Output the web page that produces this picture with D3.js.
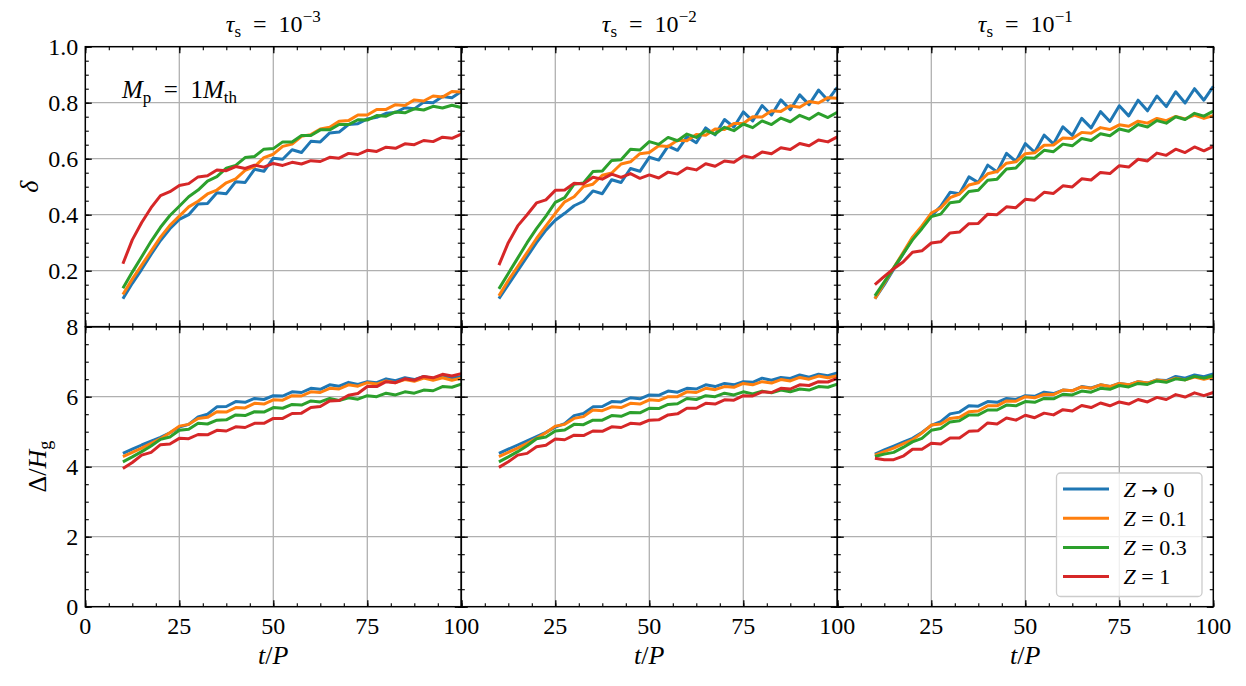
<!DOCTYPE html>
<html>
<head>
<meta charset="utf-8">
<script src="https://cdn.jsdelivr.net/npm/d3@7"></script>
<style>
  html, body { margin: 0; padding: 0; background: #fff; }
  svg { display: block; }
  text { font-family: "Liberation Serif", "DejaVu Serif", serif; fill: #000; }
</style>
</head>
<body>
<div id="chart"></div>
<script>
// sample times t/P shared by every curve
const tValues = [10, 12.5, 15, 17.5, 20, 22.5, 25, 27.5, 30, 32.5, 35, 37.5, 40, 42.5, 45, 47.5, 50, 52.5, 55,
  57.5, 60, 62.5, 65, 67.5, 70, 72.5, 75, 77.5, 80, 82.5, 85, 87.5, 90, 92.5, 95, 97.5, 100];

const legendOps = ["\u2192", "=", "=", "="];
const legendNums = ["0", "0.1", "0.3", "1"];
const tauExponents = ["\u22123", "\u22122", "\u22121"];
const colors = ["#1f77b4", "#ff7f0e", "#2ca02c", "#d62728"];

const xMajor = [0, 25, 50, 75, 100];
const deltaMajor = [0, 0.2, 0.4, 0.6, 0.8, 1.0];
const widthMajor = [0, 2, 4, 6, 8];

// delta, tau_s = 1e-3
const delta3_Z0 = [0.100,0.155,0.205,0.258,0.308,0.350,0.383,0.400,0.438,0.440,0.478,0.475,0.518,0.515,0.562,0.555,0.602,0.598,0.632,0.622,0.662,0.660,0.692,0.695,0.722,0.725,0.742,0.748,0.762,0.765,0.782,0.778,0.802,0.800,0.822,0.818,0.840];
const delta3_Z01 = [0.115,0.170,0.220,0.270,0.320,0.362,0.395,0.428,0.448,0.474,0.488,0.514,0.528,0.558,0.572,0.604,0.616,0.644,0.652,0.680,0.686,0.706,0.712,0.734,0.736,0.756,0.756,0.776,0.776,0.793,0.790,0.810,0.806,0.824,0.820,0.840,0.838];
const delta3_Z03 = [0.137,0.195,0.250,0.305,0.355,0.397,0.430,0.464,0.488,0.520,0.536,0.566,0.576,0.604,0.608,0.634,0.636,0.660,0.660,0.683,0.683,0.703,0.703,0.722,0.722,0.739,0.738,0.754,0.752,0.767,0.764,0.778,0.774,0.787,0.781,0.791,0.783];
const delta3_Z1 = [0.225,0.310,0.372,0.425,0.468,0.482,0.504,0.511,0.535,0.539,0.560,0.557,0.572,0.565,0.577,0.570,0.583,0.576,0.587,0.581,0.593,0.590,0.605,0.602,0.619,0.615,0.630,0.626,0.641,0.637,0.653,0.650,0.665,0.661,0.677,0.673,0.688];

// delta, tau_s = 1e-2
const delta2_Z0 = [0.100,0.150,0.200,0.250,0.300,0.345,0.380,0.405,0.432,0.448,0.485,0.475,0.525,0.515,0.565,0.555,0.605,0.595,0.645,0.630,0.678,0.657,0.710,0.685,0.740,0.713,0.767,0.735,0.790,0.756,0.810,0.775,0.828,0.793,0.845,0.809,0.855];
const delta2_Z01 = [0.110,0.165,0.215,0.265,0.315,0.360,0.405,0.446,0.464,0.501,0.509,0.541,0.549,0.581,0.589,0.618,0.622,0.646,0.644,0.666,0.664,0.686,0.684,0.706,0.704,0.726,0.726,0.750,0.749,0.771,0.769,0.789,0.784,0.804,0.799,0.818,0.816];
const delta2_Z03 = [0.135,0.190,0.245,0.300,0.350,0.395,0.444,0.461,0.509,0.513,0.554,0.556,0.594,0.596,0.634,0.631,0.661,0.651,0.676,0.664,0.688,0.676,0.700,0.688,0.712,0.700,0.724,0.711,0.735,0.722,0.745,0.732,0.755,0.741,0.762,0.747,0.766];
const delta2_Z1 = [0.220,0.300,0.360,0.400,0.442,0.453,0.487,0.488,0.512,0.510,0.534,0.527,0.545,0.533,0.547,0.530,0.542,0.531,0.552,0.545,0.567,0.560,0.582,0.573,0.592,0.587,0.610,0.603,0.624,0.618,0.639,0.633,0.654,0.646,0.667,0.660,0.678];

// delta, tau_s = 1e-1
const delta1_Z0 = [0.100,0.150,0.205,0.260,0.315,0.355,0.395,0.430,0.480,0.475,0.535,0.515,0.577,0.553,0.619,0.590,0.654,0.623,0.684,0.653,0.714,0.683,0.744,0.710,0.768,0.733,0.789,0.753,0.809,0.771,0.824,0.786,0.839,0.799,0.850,0.809,0.858];
const delta1_Z01 = [0.100,0.155,0.210,0.265,0.320,0.360,0.406,0.424,0.461,0.474,0.506,0.514,0.546,0.554,0.584,0.589,0.618,0.621,0.648,0.649,0.674,0.672,0.694,0.691,0.711,0.704,0.721,0.716,0.734,0.727,0.744,0.736,0.751,0.742,0.756,0.744,0.754];
const delta1_Z03 = [0.110,0.160,0.210,0.260,0.310,0.350,0.393,0.402,0.443,0.447,0.483,0.487,0.523,0.527,0.563,0.567,0.603,0.602,0.630,0.625,0.652,0.646,0.672,0.665,0.689,0.682,0.706,0.698,0.722,0.713,0.736,0.727,0.750,0.740,0.762,0.752,0.770];
const delta1_Z1 = [0.150,0.180,0.207,0.231,0.266,0.271,0.299,0.303,0.335,0.338,0.368,0.369,0.402,0.400,0.428,0.425,0.455,0.452,0.480,0.476,0.503,0.499,0.528,0.524,0.551,0.547,0.575,0.570,0.598,0.592,0.620,0.612,0.634,0.622,0.642,0.628,0.644];

// gap width Delta/H_g, tau_s = 1e-3
const width3_Z0 = [4.38,4.50,4.62,4.73,4.84,4.97,5.13,5.21,5.42,5.50,5.71,5.72,5.86,5.84,5.95,5.92,6.03,6.02,6.14,6.12,6.24,6.21,6.34,6.30,6.41,6.35,6.43,6.40,6.51,6.46,6.54,6.49,6.58,6.52,6.60,6.53,6.58];
const width3_Z01 = [4.29,4.41,4.53,4.67,4.80,4.97,5.16,5.21,5.38,5.41,5.57,5.56,5.69,5.68,5.81,5.79,5.91,5.90,6.03,6.02,6.14,6.12,6.24,6.22,6.34,6.30,6.40,6.36,6.45,6.40,6.49,6.44,6.53,6.47,6.54,6.47,6.53];
const width3_Z03 = [4.14,4.28,4.43,4.59,4.78,4.85,5.04,5.07,5.24,5.22,5.33,5.34,5.48,5.46,5.57,5.56,5.69,5.67,5.78,5.76,5.88,5.85,5.95,5.89,5.97,5.93,6.03,6.00,6.10,6.05,6.14,6.10,6.19,6.17,6.29,6.27,6.36];
const width3_Z1 = [3.95,4.12,4.33,4.41,4.63,4.65,4.81,4.80,4.92,4.91,5.04,5.02,5.14,5.12,5.24,5.24,5.38,5.38,5.52,5.53,5.69,5.72,5.88,5.89,6.04,6.09,6.29,6.29,6.43,6.40,6.51,6.47,6.58,6.54,6.64,6.59,6.66];

// gap width Delta/H_g, tau_s = 1e-2
const width2_Z0 = [4.38,4.50,4.62,4.74,4.86,4.98,5.13,5.23,5.46,5.52,5.71,5.72,5.86,5.85,5.97,5.94,6.05,6.04,6.16,6.13,6.24,6.22,6.34,6.29,6.38,6.34,6.43,6.41,6.53,6.47,6.55,6.52,6.62,6.56,6.64,6.60,6.68];
const width2_Z01 = [4.29,4.41,4.53,4.67,4.81,4.97,5.16,5.21,5.38,5.43,5.62,5.60,5.71,5.69,5.81,5.79,5.91,5.89,6.00,6.00,6.14,6.12,6.24,6.20,6.29,6.27,6.38,6.34,6.43,6.39,6.49,6.45,6.55,6.50,6.59,6.54,6.60];
const width2_Z03 = [4.14,4.28,4.43,4.60,4.80,4.85,5.02,5.05,5.21,5.20,5.33,5.33,5.46,5.44,5.55,5.54,5.67,5.66,5.78,5.80,5.95,5.92,6.03,6.00,6.10,6.05,6.14,6.08,6.16,6.11,6.19,6.14,6.22,6.19,6.29,6.27,6.36];
const width2_Z1 = [3.98,4.14,4.33,4.38,4.57,4.61,4.79,4.77,4.90,4.89,5.02,5.01,5.14,5.12,5.24,5.22,5.33,5.34,5.48,5.51,5.67,5.67,5.81,5.79,5.91,5.90,6.03,6.02,6.14,6.12,6.24,6.22,6.34,6.32,6.43,6.42,6.53];

// gap width Delta/H_g, tau_s = 1e-1
const width1_Z0 = [4.36,4.48,4.59,4.70,4.81,4.98,5.18,5.29,5.51,5.56,5.74,5.73,5.86,5.84,5.95,5.92,6.03,6.01,6.13,6.09,6.19,6.17,6.29,6.25,6.34,6.29,6.38,6.34,6.43,6.39,6.48,6.46,6.58,6.53,6.62,6.57,6.65];
const width1_Z01 = [4.33,4.43,4.53,4.65,4.77,4.96,5.19,5.22,5.38,5.41,5.57,5.59,5.74,5.74,5.88,5.87,6.00,5.97,6.07,6.06,6.19,6.17,6.28,6.24,6.34,6.29,6.38,6.34,6.43,6.39,6.48,6.44,6.53,6.48,6.56,6.50,6.56];
const width1_Z03 = [4.29,4.36,4.41,4.55,4.71,4.81,5.04,5.09,5.28,5.31,5.48,5.48,5.62,5.62,5.76,5.74,5.86,5.84,5.95,5.94,6.07,6.05,6.16,6.13,6.24,6.21,6.32,6.28,6.38,6.35,6.45,6.41,6.51,6.48,6.58,6.53,6.60];
const width1_Z1 = [4.24,4.20,4.20,4.30,4.50,4.50,4.67,4.65,4.82,4.82,5.01,5.03,5.25,5.22,5.39,5.33,5.47,5.40,5.53,5.48,5.63,5.59,5.75,5.69,5.82,5.74,5.85,5.79,5.92,5.85,5.98,5.92,6.06,5.99,6.11,6.03,6.12];

const panels = [
  { row: 0, col: 0, series: [delta3_Z0, delta3_Z01, delta3_Z03, delta3_Z1] },
  { row: 0, col: 1, series: [delta2_Z0, delta2_Z01, delta2_Z03, delta2_Z1] },
  { row: 0, col: 2, series: [delta1_Z0, delta1_Z01, delta1_Z03, delta1_Z1] },
  { row: 1, col: 0, series: [width3_Z0, width3_Z01, width3_Z03, width3_Z1] },
  { row: 1, col: 1, series: [width2_Z0, width2_Z01, width2_Z03, width2_Z1] },
  { row: 1, col: 2, series: [width1_Z0, width1_Z01, width1_Z03, width1_Z1] },
];

const width = 1246, height = 686;
const colLefts = [85.3, 461.3, 837.3];
const rowTops = [46.7, 326.7];
const panelW = 376, panelH = 280;
const fontSize = 24;
const subSize = 17;

const svg = d3.select("#chart").append("svg")
  .attr("width", width)
  .attr("height", height);

const xMinor = d3.range(0, 100.001, 6.25);
const yMinor = [d3.range(0, 1.0001, 0.05), d3.range(0, 8.001, 0.5)];

panels.forEach((p) => {
  const left = colLefts[p.col], top = rowTops[p.row];
  const x = d3.scaleLinear().domain([0, 100]).range([left, left + panelW]);
  const y = p.row === 0
    ? d3.scaleLinear().domain([0, 1]).range([top + panelH, top])
    : d3.scaleLinear().domain([0, 8]).range([top + panelH, top]);
  const yMaj = p.row === 0 ? deltaMajor : widthMajor;

  const g = svg.append("g");

  // grid
  g.append("g").selectAll("line").data(xMajor.slice(1, -1)).join("line")
    .attr("x1", (d) => x(d)).attr("x2", (d) => x(d))
    .attr("y1", top).attr("y2", top + panelH)
    .attr("stroke", "#b0b0b0").attr("stroke-width", 1.3);
  g.append("g").selectAll("line").data(yMaj.slice(1, -1)).join("line")
    .attr("x1", left).attr("x2", left + panelW)
    .attr("y1", (d) => y(d)).attr("y2", (d) => y(d))
    .attr("stroke", "#b0b0b0").attr("stroke-width", 1.3);

  // curves
  const line = d3.line()
    .x((d, i) => x(tValues[i]))
    .y((d) => y(d));
  g.append("g").selectAll("path").data(p.series).join("path")
    .attr("d", (d) => line(d))
    .attr("fill", "none")
    .attr("stroke", (d, i) => colors[i])
    .attr("stroke-width", 3)
    .attr("stroke-linejoin", "round");

  // inward ticks on all four sides, labels only on the outer edges
  const axes = [
    { gen: d3.axisBottom(x), at: `translate(0,${top + panelH})` , major: xMajor, minor: xMinor },
    { gen: d3.axisTop(x), at: `translate(0,${top})`, major: xMajor, minor: xMinor },
    { gen: d3.axisLeft(y), at: `translate(${left},0)`, major: yMaj, minor: yMinor[p.row] },
    { gen: d3.axisRight(y), at: `translate(${left + panelW},0)`, major: yMaj, minor: yMinor[p.row] },
  ];
  axes.forEach((a) => {
    const makeAxis = (vals, size) => a.gen.tickValues(vals).tickSize(-size).tickFormat("");
    g.append("g").attr("transform", a.at).call(makeAxis(a.minor, 3.5))
      .call((s) => s.select(".domain").remove())
      .call((s) => s.selectAll(".tick line").attr("stroke-width", 1.1));
    g.append("g").attr("transform", a.at).call(makeAxis(a.major, 6.5))
      .call((s) => s.select(".domain").remove())
      .call((s) => s.selectAll(".tick line").attr("stroke-width", 1.3));
  });

  // tick labels
  if (p.row === 1) {
    const xl = p.col === 0 ? xMajor : xMajor.slice(1);
    g.append("g").selectAll("text").data(xl).join("text")
      .attr("x", (d) => x(d)).attr("y", top + panelH + 27)
      .attr("text-anchor", "middle").attr("font-size", fontSize)
      .text((d) => d);
  }
  if (p.col === 0) {
    const yl = p.row === 0 ? deltaMajor.slice(1) : widthMajor;
    g.append("g").selectAll("text").data(yl).join("text")
      .attr("x", left - 7).attr("y", (d) => y(d) + 8)
      .attr("text-anchor", "end").attr("font-size", fontSize)
      .text((d) => (p.row === 0 ? d3.format(".1f")(d) : d));
  }

  // frame
  g.append("rect")
    .attr("x", left).attr("y", top).attr("width", panelW).attr("height", panelH)
    .attr("fill", "none").attr("stroke", "#000").attr("stroke-width", 1.5);

  // column titles
  if (p.row === 0) {
    const t = g.append("text")
      .attr("x", left + panelW / 2).attr("y", 32)
      .attr("text-anchor", "middle").attr("font-size", fontSize)
      .attr("xml:space", "preserve");
    t.append("tspan").attr("font-style", "italic").text("\u03c4");
    t.append("tspan").attr("font-size", subSize).attr("dy", 5).text("s");
    t.append("tspan").attr("dy", -5).text("  =  10");
    t.append("tspan").attr("font-size", subSize).attr("dy", -10).text(tauExponents[p.col]);
  }

  // x-axis label
  if (p.row === 1) {
    const t = g.append("text")
      .attr("x", left + panelW / 2).attr("y", 664)
      .attr("text-anchor", "middle").attr("font-size", 26)
      .attr("font-style", "italic");
    t.append("tspan").text("t");
    t.append("tspan").attr("font-style", "normal").text("/");
    t.append("tspan").text("P");
  }
});

// planet mass annotation
const mp = svg.append("text").attr("x", 122).attr("y", 98).attr("font-size", fontSize + 1)
  .attr("xml:space", "preserve");
mp.append("tspan").attr("font-style", "italic").text("M");
mp.append("tspan").attr("font-size", subSize).attr("dy", 5).text("p");
mp.append("tspan").attr("dy", -5).text("  =  1");
mp.append("tspan").attr("font-style", "italic").text("M");
mp.append("tspan").attr("font-size", subSize).attr("dy", 5).text("th");

// y-axis labels
svg.append("text")
  .attr("transform", `translate(38,${rowTops[0] + panelH / 2}) rotate(-90)`)
  .attr("text-anchor", "middle").attr("font-size", 26)
  .attr("font-style", "italic").text("\u03b4");

const yl2 = svg.append("text")
  .attr("transform", `translate(46,${rowTops[1] + panelH / 2}) rotate(-90)`)
  .attr("text-anchor", "middle").attr("font-size", 26);
yl2.append("tspan").text("\u0394/");
yl2.append("tspan").attr("font-style", "italic").text("H");
yl2.append("tspan").attr("font-size", 18).attr("dy", 5).text("g");

// legend
const legend = svg.append("g").attr("transform", "translate(1056.5,473)");
legend.append("rect")
  .attr("width", 145.5).attr("height", 123.5).attr("rx", 4)
  .attr("fill", "#fff").attr("fill-opacity", 0.8)
  .attr("stroke", "#cccccc").attr("stroke-width", 1.3);
const items = legend.selectAll("g.item").data(legendNums).join("g")
  .attr("class", "item")
  .attr("transform", (d, i) => `translate(0,${16 + i * 29.2})`);
items.append("line")
  .attr("x1", 6.5).attr("x2", 52.5)
  .attr("stroke", (d, i) => colors[i]).attr("stroke-width", 3);
const lt = items.append("text").attr("x", 67).attr("y", 7.5).attr("font-size", 22)
  .attr("xml:space", "preserve");
lt.append("tspan").attr("font-style", "italic").text("Z ");
lt.append("tspan")
  .attr("font-family", (d, i) => (i === 0 ? "DejaVu Sans" : null))
  .attr("font-size", (d, i) => (i === 0 ? 20 : null))
  .text((d, i) => legendOps[i]);
lt.append("tspan").text((d) => " " + d);
</script>
</body>
</html>
